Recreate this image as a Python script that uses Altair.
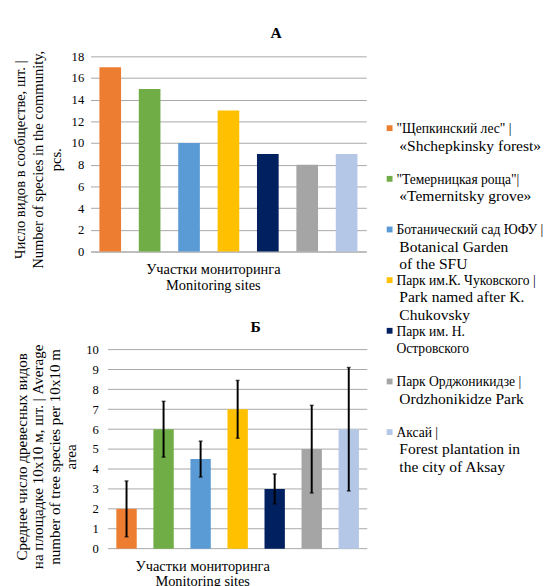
import altair as alt
import pandas as pd

# ---- data ----
site_keys = ["Щепкинский лес", "Темерницкая роща", "Ботанический сад ЮФУ",
             "Парк им. К. Чуковского", "Парк им. Н. Островского",
             "Парк Орджоникидзе", "Аксай"]
legend_ru = ['"Щепкинский лес" |', '"Темерницкая роща"|', "Ботанический сад ЮФУ |",
             "Парк им.К. Чуковского |", "Парк им. Н.\nОстровского",
             "Парк Орджоникидзе |", "Аксай |"]
legend_en = ["«Shchepkinsky forest»", "«Temernitsky grove»", "Botanical Garden\nof the SFU",
             "Park named after K.\nChukovsky", "", "Ordzhonikidze Park",
             "Forest plantation in\nthe city of Aksay"]
species_count = [17, 15, 10, 13, 9, 8, 9]
tree_mean = [2, 6, 4.5, 7, 3, 5, 6]
tree_err = [1.4, 1.4, 0.9, 1.45, 0.75, 2.2, 3.1]
colors = ["#ED7D31", "#70AD47", "#5B9BD5", "#FFC000", "#002060", "#A5A5A5", "#B4C7E7"]
yticks_a = [0, 2, 4, 6, 8, 10, 12, 14, 16, 18]
yticks_b = [0, 1, 2, 3, 4, 5, 6, 7, 8, 9, 10]

FONT = "Liberation Serif"
GRID = "#a6a6a6"

df_a = pd.DataFrame({"site": site_keys, "value": species_count})
df_b = pd.DataFrame({"site": site_keys, "mean": tree_mean,
                     "lo": [m - e for m, e in zip(tree_mean, tree_err)],
                     "hi": [m + e for m, e in zip(tree_mean, tree_err)]})
df_grid_b = pd.DataFrame({"mean": yticks_b})
df_leg = pd.DataFrame({"idx": list(range(len(site_keys))), "site": site_keys,
                       "ru": legend_ru, "en": legend_en})

color = alt.Color("site:N", scale=alt.Scale(domain=site_keys, range=colors), legend=None)

def x_enc(title_x, pad, domain, rng=None):
    sc = dict(paddingInner=0.45, paddingOuter=0.225)
    if rng is not None:
        sc["range"] = rng
    return alt.X("site:N", sort=site_keys, scale=alt.Scale(**sc),
                 axis=alt.Axis(labels=False, ticks=False, domain=domain, domainColor=GRID,
                               title=["Участки мониторинга", "Monitoring sites"],
                               titleX=title_x, titleFontSize=14.8, titleFontWeight="normal",
                               titleLineHeight=16, titlePadding=pad, titleFont=FONT))

# ---- chart A ----
chart_a = alt.Chart(df_a).mark_bar().encode(
    x=x_enc(126, 11, True),
    y=alt.Y("value:Q", scale=alt.Scale(domain=[0, 18]),
            axis=alt.Axis(values=yticks_a, grid=True, gridColor=GRID, domain=False,
                          ticks=False, labelPadding=7, labelFontSize=13, labelFont=FONT,
                          labelOverlap=False,
                          title=["Число видов в сообществе, шт. |",
                                 "Number of species in the community,", "pcs."],
                          titleY=106,
                          titleFontSize=15, titleLineHeight=18.5, titleFontWeight="normal",
                          titleFont=FONT, titlePadding=8)),
    color=color,
).properties(
    width=284, height=201,
    title=alt.TitleParams("А", fontSize=16, fontWeight="bold", font=FONT,
                          frame="group", dx=49, offset=10),
)

# ---- chart B ----
axis_b = alt.Axis(values=yticks_b, grid=False, domain=False, offset=-18,
                  ticks=False, labelPadding=10, labelFontSize=13, labelFont=FONT,
                  labelOverlap=False,
                  title=["Среднее число древесных видов",
                         "на площадке 10x10 м, шт. | Average",
                         "number of tree species per 10x10 m", "area"],
                  titleY=110,
                  titleFontSize=15.5, titleLineHeight=17, titleFontWeight="normal",
                  titleFont=FONT, titlePadding=7)
scale_b = alt.Scale(domain=[0, 10])
xb = x_enc(115, 10, False, [18, 285])
grid_b = alt.Chart(df_grid_b).mark_rule(color=GRID, strokeWidth=1).encode(
    y=alt.Y("mean:Q", scale=scale_b, axis=axis_b), x=alt.value(18), x2=alt.value(285))
base_b = alt.Chart(df_b).encode(x=xb)
bars_b = base_b.mark_bar().encode(y=alt.Y("mean:Q", scale=scale_b, axis=axis_b), color=color)
err_b = base_b.mark_rule(color="black", strokeWidth=2).encode(
    y=alt.Y("lo:Q", scale=scale_b, axis=axis_b), y2="hi:Q")
cap_lo = base_b.mark_tick(color="black", size=4, thickness=1.5).encode(
    y=alt.Y("lo:Q", scale=scale_b, axis=axis_b))
cap_hi = base_b.mark_tick(color="black", size=4, thickness=1.5).encode(
    y=alt.Y("hi:Q", scale=scale_b, axis=axis_b))
chart_b = alt.layer(grid_b, bars_b, err_b, cap_lo, cap_hi).properties(
    width=285, height=205,
    title=alt.TitleParams("Б", fontSize=16, fontWeight="bold", font=FONT,
                          frame="group", dx=27.5, offset=9),
)

# ---- legend ----
leg_base = alt.Chart(df_leg).encode(
    y=alt.Y("idx:Q", scale=alt.Scale(domain=[-1.418, 8.550], reverse=True), axis=None))
leg_sq = leg_base.mark_square(size=36, opacity=1).encode(x=alt.value(22), color=color)
leg_ru = leg_base.mark_text(align="left", baseline="alphabetic", dy=5, fontSize=14,
                            font=FONT, lineBreak="\n", lineHeight=18).encode(
    x=alt.value(29), text="ru:N")
leg_en = leg_base.mark_text(align="left", baseline="alphabetic", dy=23, fontSize=16,
                            font=FONT, lineBreak="\n", lineHeight=18).encode(
    x=alt.value(32), text="en:N")
legend = alt.layer(leg_sq, leg_ru, leg_en).properties(width=150, height=520)

chart = alt.hconcat(
    alt.vconcat(chart_a, chart_b, spacing=28),
    legend, spacing=0,
).properties(
    padding={"left": 5, "top": 8, "right": 0, "bottom": 0}
).configure(font=FONT).configure_view(stroke=None).configure_axis(
    titleColor="black", labelColor="black")

chart.save("out.html", embed_options={"renderer": "svg", "actions": False})
